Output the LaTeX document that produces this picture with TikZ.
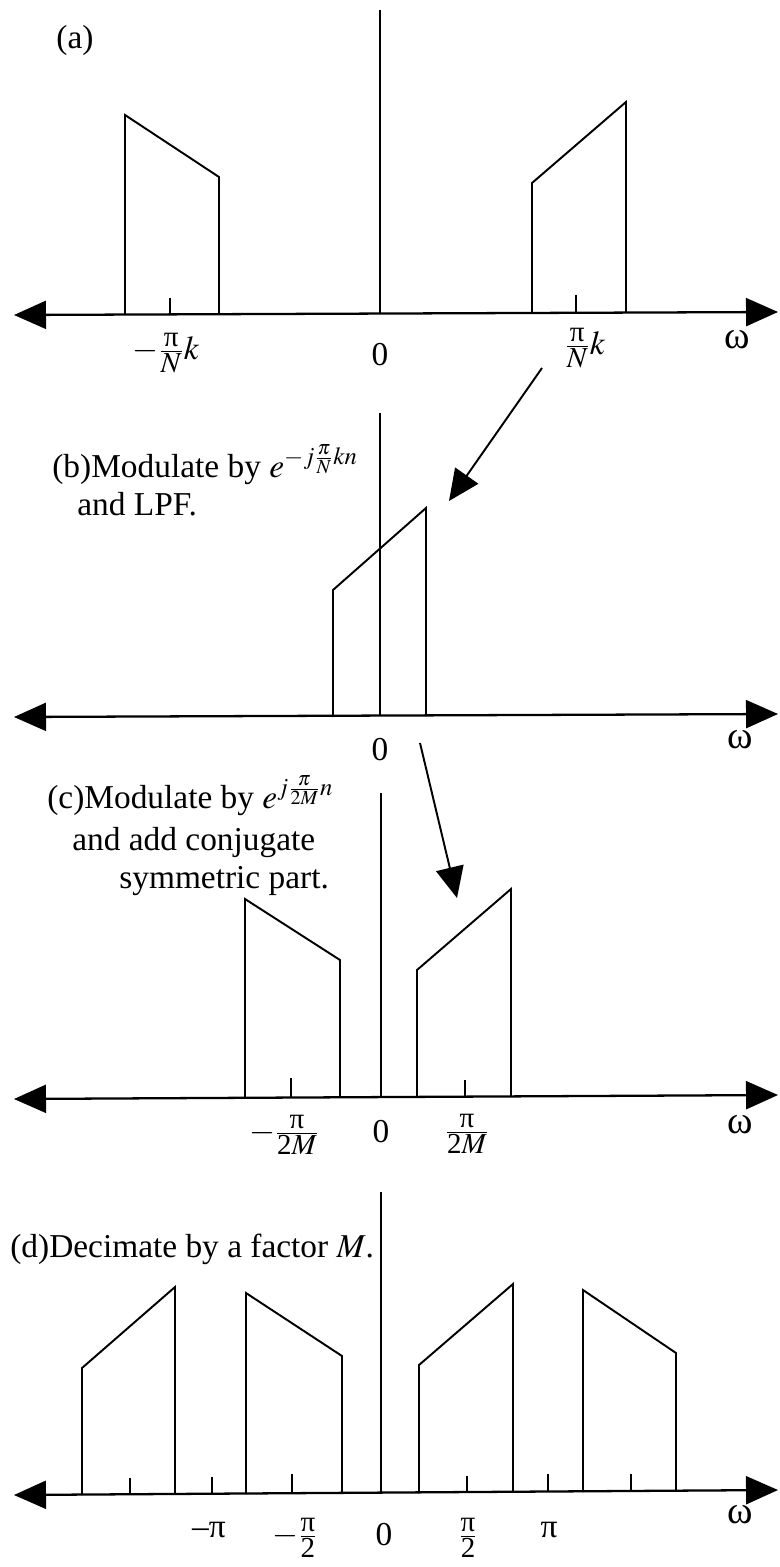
\documentclass[tikz,border=0pt]{standalone}
\usepackage{mathptmx}
\usepackage[no-math]{fontspec}
\setmainfont{Liberation Serif}
\usepackage{tikz}
\usetikzlibrary{arrows.meta}
\newcommand{\fracpart}[1]{\mbox{\fontsize{16.5}{17}\selectfont #1}}
\newcommand{\lblfrac}[2]{\frac{\fracpart{#1}}{\fracpart{#2}}}
\tikzset{
    axisline/.style={
        {Triangle[length=0.64cm,width=0.56cm]}-{Triangle[length=0.64cm,width=0.56cm]},
        line width=1.3pt,
    },
    zeroline/.style={
        line width=0.8pt,
    },
    band/.style={
        line width=1.1pt,
        line join=miter,
    },
    tickmark/.style={
        line width=0.9pt,
    },
    pointer/.style={
        -{Triangle[length=0.62cm,width=0.56cm]},
        line width=1.1pt,
    },
    axislabel/.style={
        font=\fontsize{19}{22}\selectfont,
        inner sep=0pt,
    },
    omegalabel/.style={
        font=\fontsize{22}{24}\selectfont,
        inner sep=0pt,
    },
    caption/.style={
        font=\fontsize{19}{23}\selectfont,
        inner sep=0pt,
        anchor=base west,
    },
}

\begin{document}
\begin{tikzpicture}[x=0.02cm, y=-0.02cm]
        \useasboundingbox (0,0) rectangle (779,1567);

        % (a)
        \node[caption, anchor=center] (capA) at (75,40) {(a)};
        \coordinate (aL) at (14,315);
        \coordinate (aR) at (778,312);
        \draw[axisline] (aL) -- (aR);
        \draw[zeroline] (380,10) -- (380,314);
        \draw[band] (125,315) -- (125,115) -- (219,177) -- (219,314);
        \draw[band] (532,313) -- (532,183) -- (626,102) -- (626,312);
        \draw[tickmark] (170,298) -- (170,315);
        \draw[tickmark] (576,295) -- (576,313);
        \node[axislabel] (lblAneg) at (166,353) {$-\lblfrac{π}{$N$}k$};
        \node[axislabel] (lblAzero) at (380,355) {0};
        \node[axislabel] (lblApos) at (585,348) {$\lblfrac{π}{$N$}k$};
        \node[omegalabel] (lblAw) at (737,340) {ω};

        % (b)
        \node[caption] (capB) at (52,477) {(b)Modulate by $e^{-j\frac{\pi}{N}kn}$};
        \node[caption] (capBtwo) at (77,515) {and LPF.};
        \coordinate (bL) at (14,717);
        \coordinate (bR) at (778,714);
        \draw[axisline] (bL) -- (bR);
        \draw[zeroline] (380,413) -- (380,716);
        \draw[band] (333,717) -- (333,590) -- (426,508) -- (426,716);
        \node[axislabel] (lblBzero) at (380,750) {0};
        \node[omegalabel] (lblBw) at (740,740) {ω};

        % (c)
        \node[caption] (capC) at (47,808) {(c)Modulate by $e^{j\frac{\pi}{2M}n}$};
        \node[caption] (capCtwo) at (72,850) {and add conjugate};
        \node[caption] (capCthree) at (119,888) {symmetric part.};
        \coordinate (cL) at (14,1099);
        \coordinate (cR) at (778,1095);
        \draw[axisline] (cL) -- (cR);
        \draw[zeroline] (381,793) -- (381,1097);
        \draw[band] (245,1098) -- (245,899) -- (340,960) -- (340,1097);
        \draw[band] (417,1097) -- (417,970) -- (511,889) -- (511,1096);
        \draw[tickmark] (291,1078) -- (291,1098);
        \draw[tickmark] (465,1080) -- (465,1097);
        \node[axislabel] (lblCneg) at (284,1135) {$-\lblfrac{π}{2$M$}$};
        \node[axislabel] (lblCzero) at (381,1132) {0};
        \node[axislabel] (lblCpos) at (467,1134) {$\lblfrac{π}{2$M$}$};
        \node[omegalabel] (lblCw) at (740,1125) {ω};

        % (d)
        \node[caption] (capD) at (10,1257) {(d)Decimate by a factor $M$.};
        \coordinate (dL) at (14,1495);
        \coordinate (dR) at (778,1490);
        \draw[axisline] (dL) -- (dR);
        \draw[zeroline] (381,1192) -- (381,1493);
        \draw[band] (82,1495) -- (82,1368) -- (175,1287) -- (175,1494);
        \draw[band] (246,1494) -- (246,1293) -- (342,1356) -- (342,1493);
        \draw[band] (419,1493) -- (419,1365) -- (513,1284) -- (513,1492);
        \draw[band] (583,1492) -- (583,1290) -- (676,1353) -- (676,1491);
        \draw[tickmark] (130,1478) -- (130,1495);
        \draw[tickmark] (212,1477) -- (212,1494);
        \draw[tickmark] (292,1474) -- (292,1494);
        \draw[tickmark] (467,1476) -- (467,1493);
        \draw[tickmark] (548,1474) -- (548,1492);
        \draw[tickmark] (631,1474) -- (631,1491);
        \node[axislabel] (lblDnegpi) at (209,1530) {–π};
        \node[axislabel] (lblDneghalf) at (295,1538) {$-\lblfrac{π}{2}$};
        \node[axislabel] (lblDzero) at (384,1535) {0};
        \node[axislabel] (lblDposhalf) at (468,1538) {$\lblfrac{π}{2}$};
        \node[axislabel] (lblDpospi) at (549,1530) {π};
        \node[omegalabel] (lblDw) at (740,1515) {ω};

        % pointers between panels
        \coordinate (ptrAfrom) at (542,368);
        \coordinate (ptrAto) at (449,501);
        \coordinate (ptrBfrom) at (420,743);
        \coordinate (ptrBto) at (457,898);
        \draw[pointer] (ptrAfrom) -- (ptrAto);
        \draw[pointer] (ptrBfrom) -- (ptrBto);
    \end{tikzpicture}
\end{document}
